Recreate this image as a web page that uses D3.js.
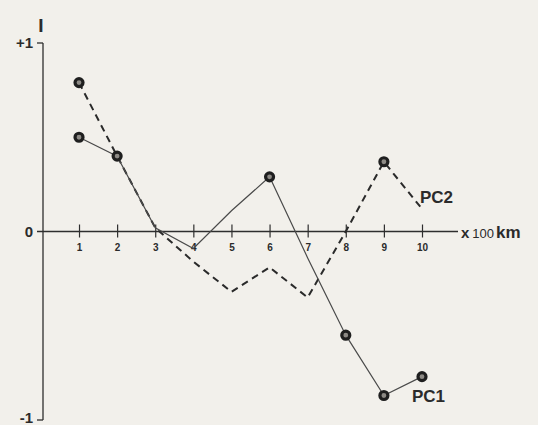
<!DOCTYPE html>
<html><head><meta charset="utf-8">
<script src="https://cdn.jsdelivr.net/npm/d3@7"></script>
<style>
html,body{margin:0;padding:0;background:#f2f0eb;}
svg{display:block;}
text{font-family:"Liberation Sans",Arial,sans-serif;fill:#2b2b2b;}
</style></head><body>
<svg id="c" width="538" height="425"></svg>
<script>
const distances = [1,2,3,4,5,6,7,8,9,10];
const pc1 = [0.50,0.40,0.02,-0.09,0.11,0.29,-0.14,-0.55,-0.87,-0.77];
const pc2 = [0.79,0.40,0.02,-0.16,-0.32,-0.19,-0.35,0.00,0.37,0.12];
const pc1Marked = [1,2,6,8,9,10];
const pc2Marked = [1,9];
const xTicks = [1,2,3,4,5,6,7,8,9,10];
const yTickLabels = [{v:1,t:"+1"},{v:0,t:"0"},{v:-1,t:"-1"}];

const svg = d3.select("#c");
const x = d3.scaleLinear().domain([0,10]).range([40.9,422]);
const y = d3.scaleLinear().domain([-1,1]).range([420,43]);
const ink = "#2e2e2e";
const axX = 43;

// y axis
svg.append("line").attr("x1",axX).attr("x2",axX).attr("y1",y(1)).attr("y2",y(-1))
  .attr("stroke",ink).attr("stroke-width",1.3);
[1,-1].forEach(v=>svg.append("line").attr("x1",axX-6).attr("x2",axX).attr("y1",y(v)).attr("y2",y(v))
  .attr("stroke",ink).attr("stroke-width",1.3));
// x axis (zero line)
svg.append("line").attr("x1",axX-6).attr("x2",458).attr("y1",y(0)).attr("y2",y(0))
  .attr("stroke",ink).attr("stroke-width",1.3);

const gx = svg.append("g").attr("transform",`translate(0,${y(0)})`)
  .call(d3.axisBottom(x).tickValues(xTicks).tickSize(6).tickFormat(d3.format("d")));
gx.select(".domain").remove();
gx.selectAll(".tick line").attr("y1",-7).attr("y2",6).attr("stroke",ink).attr("stroke-width",1.2);
gx.selectAll(".tick text").attr("y",12).attr("font-size",10).attr("font-weight","bold")
  .attr("font-family","Liberation Sans,Arial,sans-serif").attr("fill",ink);

// y labels
svg.selectAll(".ylab").data(yTickLabels).enter().append("text")
  .attr("x",33).attr("y",d=>y(d.v) - (d.v===-1?2:0)).attr("dy","0.36em").attr("text-anchor","end")
  .attr("font-size",15).attr("font-weight","bold").text(d=>d.t);
svg.append("text").attr("x",41).attr("y",32).attr("text-anchor","middle")
  .attr("font-family","Liberation Serif,serif").attr("font-size",19).attr("font-weight","bold").text("I");

// unit label
const u = svg.append("text").attr("x",461).attr("y",238);
u.append("tspan").attr("font-size",15).attr("font-weight","bold").text("x");
u.append("tspan").attr("dx",3).attr("font-size",13).text("100");
u.append("tspan").attr("dx",2).attr("font-size",17).attr("font-weight","bold").text("km");

const line = d3.line().x((d,i)=>x(distances[i])).y(d=>y(d));
svg.append("path").datum(pc2).attr("d",line).attr("fill","none")
  .attr("stroke","#2a2a2a").attr("stroke-width",2).attr("stroke-dasharray","7,5");
svg.append("path").datum(pc1).attr("d",line).attr("fill","none")
  .attr("stroke","#4a4a4a").attr("stroke-width",1.2);

function marks(vals, idx){
  svg.append("g").selectAll("circle").data(idx).enter().append("circle")
    .attr("cx",d=>x(d)).attr("cy",d=>y(vals[d-1])).attr("r",4)
    .attr("fill","#8d8a85").attr("stroke","#1f1f1f").attr("stroke-width",3.2);
}
marks(pc1,pc1Marked);
marks(pc2,pc2Marked);

svg.append("text").attr("x",420).attr("y",203).attr("font-size",17).attr("font-weight","bold").text("PC2");
svg.append("text").attr("x",412).attr("y",402).attr("font-size",17).attr("font-weight","bold").text("PC1");
</script></body></html>
